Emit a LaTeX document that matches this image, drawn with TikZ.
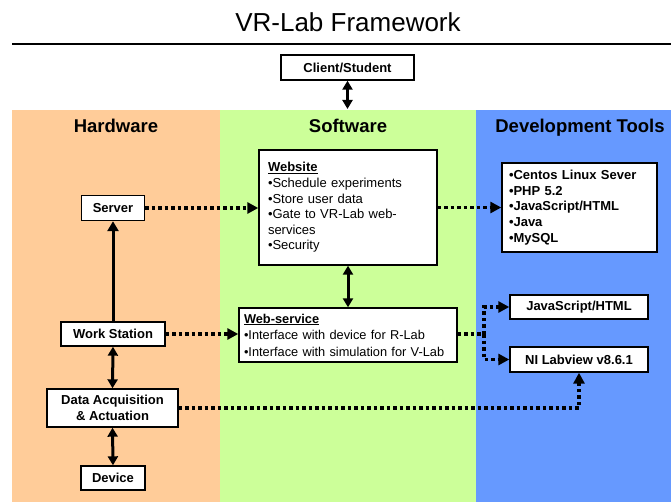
\documentclass[tikz,border=0pt]{standalone}
\usepackage{fontspec}
\setmainfont{Liberation Sans}
\usetikzlibrary{arrows.meta}

\definecolor{hwcol}{HTML}{FFCC99}
\definecolor{swcol}{HTML}{CCFF99}
\definecolor{dtcol}{HTML}{6699FF}

\tikzset{
	box/.style={draw=black, line width=1.4pt, fill=white, inner sep=0pt,
		font=\bfseries\fontsize{13}{15}\selectfont, align=center},
	listbox/.style={draw=black, line width=1.4pt, fill=white, inner ysep=0pt,
		align=left, font=\fontsize{13}{15.6}\selectfont},
	heading/.style={anchor=base, font=\bfseries\fontsize{18.5}{20}\selectfont},
	solidarrow/.style={line width=3pt, -{Triangle[length=10pt,width=11pt]}},
	bothway/.style={line width=3pt, {Triangle[length=9pt,width=10pt]}-{Triangle[length=9pt,width=10pt]}},
	dotline/.style={line width=3.5pt, dash pattern=on 3.5pt off 3pt},
	dotarrow/.style={dotline, -{Triangle[length=11pt,width=11pt]}}
}

\begin{document}
\begin{tikzpicture}[x=1pt, y=-1pt]
	%%%%% START %%%%%
	\useasboundingbox (0,0) rectangle (671,502);
	
	% title and rule
	\node[font=\fontsize{26}{28}\selectfont] (title) at (348,22) {VR-Lab Framework};
	\draw[line width=2pt] (12,44) -- (671,44);
	
	% the three columns
	\fill[hwcol] (12,110) rectangle (220,502);
	\fill[swcol] (220,110) rectangle (476,502);
	\fill[dtcol] (476,110) rectangle (671,502);
	
	\node[heading] (hwhead) at (116,133) {Hardware};
	\node[heading] (swhead) at (348,133) {Software};
	\node[heading] (dthead) at (580,133) {Development Tools};
	
	% client on top
	\node[box, minimum width=133pt, minimum height=25pt] (client) at (347.5,67.5) {Client/Student};
	\coordinate (swtop) at (347.5,109);
	\draw[bothway] (client.south) -- (swtop);
	
	% hardware column
	\node[box, minimum width=63pt, minimum height=25pt] (server) at (113,208) {Server};
	\node[box, minimum width=104pt, minimum height=24pt] (workst) at (113,334) {Work Station};
	\node[box, minimum width=131pt, minimum height=38pt, font=\bfseries\fontsize{13}{16.5}\selectfont] (daq) at (112.5,408) {Data Acquisition\\\& Actuation};
	\node[box, minimum width=64pt, minimum height=24pt] (device) at (113,478) {Device};
	
	\draw[solidarrow] (workst.north) -- (server.south);
	\draw[bothway] (workst.south) -- (daq.north);
	\draw[bothway] (daq.south) -- (device.north);
	
	% software column
	\node[listbox, text width=160pt, inner xsep=9pt, minimum height=115pt] (website) at (348,207.5)
		{\textbf{\underline{Website}}\\
		 •Schedule experiments\\
		 •Store user data\\
		 •Gate to VR-Lab web-\\
		 services\\
		 •Security};
	\node[listbox, text width=208pt, inner xsep=5pt, minimum height=54pt, font=\fontsize{12.8}{16.5}\selectfont] (websvc) at (348,335)
		{\textbf{\underline{Web-service}}\\
		 •Interface with device for R-Lab\\
		 •Interface with simulation for V-Lab};
	
	\draw[bothway] (website.south) -- (websvc.north);
	
	% development tools column
	\node[listbox, text width=141pt, inner xsep=7pt, minimum height=89pt, font=\bfseries\fontsize{13}{15.7}\selectfont] (tools) at (579.5,207.5)
		{•Centos Linux Sever\\
		 •PHP 5.2\\
		 •JavaScript/HTML\\
		 •Java\\
		 •MySQL};
	\node[box, minimum width=138pt, minimum height=24pt] (jsbox) at (579,307) {JavaScript/HTML};
	\node[box, minimum width=138pt, minimum height=25pt] (nibox) at (579,359.5) {NI Labview v8.6.1};
	
	% dotted links across the columns
	\draw[dotarrow] (server.east) -- (server.east -| website.west);
	\draw[dotarrow] (website.east) -- (tools.west);
	\draw[dotarrow] (workst.east) -- (workst.east -| websvc.west);
	
	\coordinate (split) at (484,334);
	\draw[dotline] (websvc.east |- split) -- (split);
	\draw[dotarrow] (split) |- (jsbox.west);
	\draw[dotarrow] (split) |- (nibox.west);
	
	\draw[dotarrow] (daq.east) -| (nibox.south);
	%%%%% END %%%%%
\end{tikzpicture}
\end{document}
